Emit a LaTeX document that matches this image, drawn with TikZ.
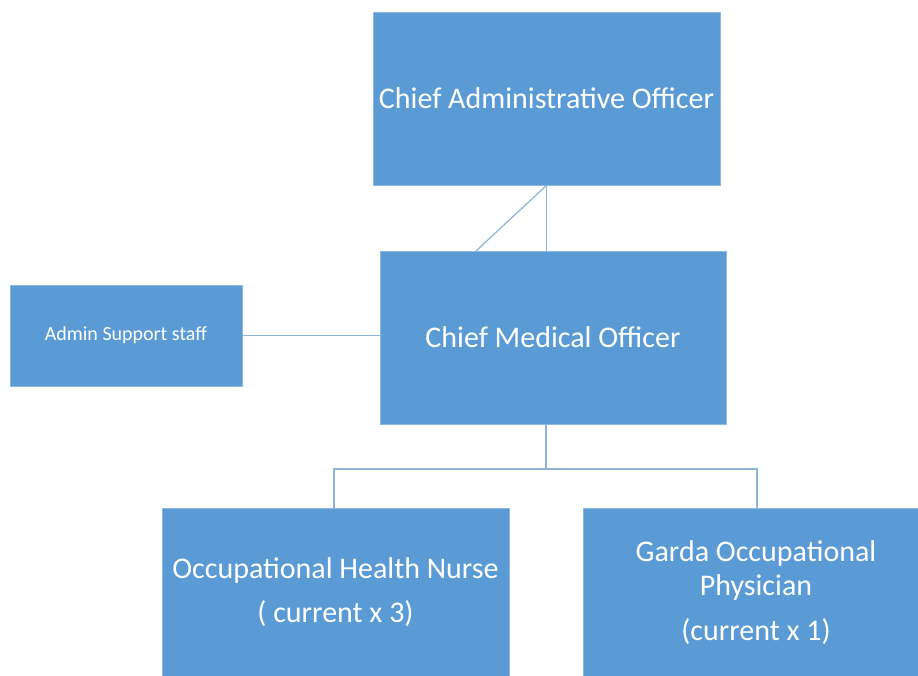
\documentclass[tikz,border=0pt]{standalone}
\usepackage{fontspec}
\setmainfont{Carlito}
\definecolor{boxfill}{HTML}{5B9BD5}
\definecolor{boxedge}{HTML}{8DB8E2}
\definecolor{linkcol}{HTML}{8FB4DA}
\begin{document}
\begin{tikzpicture}[x=1pt,y=-1pt,
  orgbox/.style={fill=boxfill,draw=boxedge,line width=0.8pt,text=white,align=center,inner sep=0pt},
  link/.style={draw=linkcol,line width=1.2pt}]
\useasboundingbox (0,0) rectangle (918,675);
\fill[white] (0,0) rectangle (918,675);
\node[orgbox,minimum width=347pt,minimum height=173pt,font=\fontsize{30}{34}\selectfont] (cao) at (546.5,98.5) {Chief Administrative Officer};
\node[orgbox,minimum width=346pt,minimum height=173pt,font=\fontsize{30}{34}\selectfont] (cmo) at (553,337.5) {Chief Medical Officer};
\node[orgbox,minimum width=232pt,minimum height=101pt,font=\fontsize{20}{24}\selectfont] (adm) at (126,335.5) {Admin Support staff};
\begin{scope}
\clip (0,0) rectangle (918,675);
\node[orgbox,minimum width=347pt,minimum height=180pt,anchor=north west] (ohn) at (162,508) {};
\node[orgbox,minimum width=340pt,minimum height=180pt,anchor=north west] (gop) at (583,508) {};
\end{scope}
\node[text=white,align=center,font=\fontsize{30}{44}\selectfont] (ohnt) at (335.5,592) {Occupational Health Nurse\\( current x 3)};
\node[text=white,align=center,font=\fontsize{30}{34}\selectfont] (gopt) at (756,570) {Garda Occupational\\Physician};
\node[text=white,font=\fontsize{30}{34}\selectfont] (gopc) at (756,632) {(current x 1)};
\coordinate (j) at (546,469);
\draw[link] (cao.south) -- (cmo.north -| cao.south);
\draw[link] (cao.south) -- (476,251);
\draw[link] (adm.east) -- (adm.east -| cmo.west);
\draw[link] (cmo.south -| j) -- (j);
\draw[link] (334,508) |- (j) -| (757,508);
\end{tikzpicture}
\end{document}
